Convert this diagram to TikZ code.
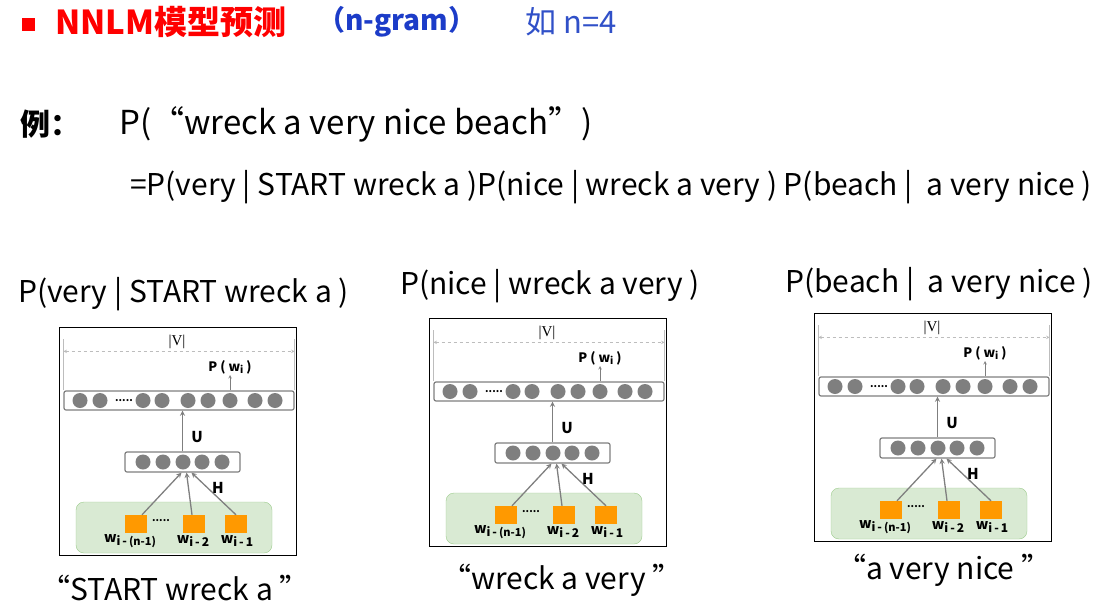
\documentclass[tikz,border=0pt]{standalone}
\usepackage{fontspec}
\setmainfont{Noto Sans CJK SC}
\newfontfamily\vfont{Liberation Serif}
\usetikzlibrary{positioning}
\definecolor{titlered}{HTML}{FF0000}
\definecolor{ngblue}{HTML}{1C3CC8}
\definecolor{egblue}{HTML}{3050C8}
\definecolor{unitgray}{HTML}{7F7F7F}
\definecolor{dimgray}{HTML}{BDBDBD}
\definecolor{wordorange}{HTML}{FF9900}
\definecolor{ctxgreen}{HTML}{D9EAD3}
\definecolor{ctxedge}{HTML}{9CCB8C}

\begin{document}
\begin{tikzpicture}[x=1pt,y=-1pt,
  txt/.style={anchor=west,inner sep=0pt,font=\fontsize{30}{32}\selectfont},
  unit/.style={circle,fill=unitgray,inner sep=0pt,minimum size=15pt},
  bar/.style={draw=unitgray,line width=1.2pt,rounded corners=2pt,fill=white,inner sep=0pt},
  word/.style={fill=wordorange,inner sep=0pt,minimum width=22pt,minimum height=18pt},
  ctx/.style={draw=ctxedge,fill=ctxgreen,rounded corners=8pt,inner sep=0pt},
  wlbl/.style={inner sep=0pt,font=\fontsize{14}{16}\selectfont\bfseries},
  link/.style={->,>=stealth,draw=unitgray,line width=1.3pt},
  dim/.style={<->,>=stealth,draw=dimgray,dashed,line width=0.6pt},
  thinline/.style={draw=dimgray,line width=0.6pt}]

\useasboundingbox (0,0) rectangle (1103,605);

% heading
\node[fill=titlered,minimum size=13pt,inner sep=0pt] (bullet) at (28,24) {};
\node[txt,font=\fontsize{33}{36}\selectfont\bfseries,text=titlered] (title) at (55,22) {NNLM模型预测};
\node[txt,font=\fontsize{28}{30}\selectfont\bfseries,text=ngblue] (ngram) at (317,22) {（n-gram）};
\node[txt,font=\fontsize{31}{32}\selectfont,text=egblue] (eg) at (525,22) {如\ n=4};

% the example
\node[txt,font=\fontsize{30}{32}\selectfont\bfseries] (li) at (20,124) {例：};
\node[txt,font=\fontsize{33}{35}\selectfont] (prob) at (119,124) {P(“wreck a very nice beach”)};
\node[txt] (chain) at (130,187) {=P(very | START wreck a )P(nice | wreck a very ) P(beach |\ \ a very nice )};

% one model per factor
\node[txt] (t1) at (18,294) {P(very | START wreck a )};
\node[txt] (t2) at (400,286) {P(nice | wreck a very )};
\node[txt] (t3) at (785,284) {P(beach |\ \ a very nice )};

\foreach \i/\dx/\dy in {1/0/0,2/370/-9,3/755/-14}{
\begin{scope}[shift={(\dx,\dy)}]
  \draw[line width=1pt] (59,327) rectangle (296,555);
  \node[ctx,minimum width=196pt,minimum height=51pt] (ctx\i) at (174,527.5) {};

  % hidden layer
  \node[bar,minimum width=115pt,minimum height=20pt] (hid\i) at (182.5,462) {};
  \foreach \x in {143,163,183,202,222}
    \node[unit] at (\x,462) {};

  % output layer
  \node[bar,minimum width=230pt,minimum height=19pt] (out\i) at (179,400.5) {};
  \foreach \x in {80,100,143,162,188,208,230,255,275}
    \node[unit] at (\x,400.5) {};
  \node[wlbl,font=\fontsize{10}{10}\selectfont\bfseries] (odots\i) at (124,401) {.....};

  % |V| span
  \draw[thinline] (out\i.north west) -- ++(0,-51);
  \draw[thinline] (out\i.north east) -- ++(0,-51);
  \draw[dim] ([yshift=39pt]out\i.north west) -- ([yshift=39pt]out\i.north east);
  \node[font=\vfont\fontsize{15}{15}\selectfont,inner sep=0pt] (v\i) at (177,342) {|V|};

  \node[wlbl,font=\fontsize{13}{14}\selectfont\bfseries] (p\i) at (230,367) {P ( w\raisebox{-2pt}{\fontsize{10}{10}\selectfont i} )};
  \draw[->,>=stealth,draw=unitgray,line width=0.6pt] (p\i.south |- out\i.north) -- ([yshift=-1pt]p\i.south);

  % context words
  \node[word] (wa\i) at (136,524) {};
  \node[word] (wb\i) at (194,524) {};
  \node[word] (wc\i) at (236,524) {};
  \node[wlbl,font=\fontsize{10}{10}\selectfont\bfseries] (wdots\i) at (161,521) {.....};
  \node[wlbl] (la\i) at (130,541) {w\raisebox{-3pt}{\fontsize{12}{12}\selectfont i\,-\,{\fontsize{11}{11}\selectfont(n-1)}}};
  \node[wlbl] (lb\i) at (193,541) {w\raisebox{-3pt}{\fontsize{12}{12}\selectfont i\,-\,2}};
  \node[wlbl] (lc\i) at (237,541) {w\raisebox{-3pt}{\fontsize{12}{12}\selectfont i\,-\,1}};

  \draw[link] ([xshift=6pt]wa\i.north) -- ([xshift=-1pt]hid\i.south);
  \draw[link] ([xshift=-2pt]wb\i.north) -- ([xshift=4pt]hid\i.south);
  \draw[link] (wc\i.north) -- ([xshift=9pt]hid\i.south);
  \node[wlbl,font=\fontsize{15}{16}\selectfont\bfseries] (h\i) at (218,488) {H};

  \draw[link] (hid\i.north) -- (hid\i.north |- out\i.south);
  \node[wlbl,font=\fontsize{15}{16}\selectfont\bfseries] (u\i) at (197,437) {U};
\end{scope}
}

% the contexts
\node[txt] (q1) at (40,588) {“START wreck a ”};
\node[txt] (q2) at (441,580) {“wreck a very ”};
\node[txt] (q3) at (836,570) {“a very nice ”};
\end{tikzpicture}
\end{document}
